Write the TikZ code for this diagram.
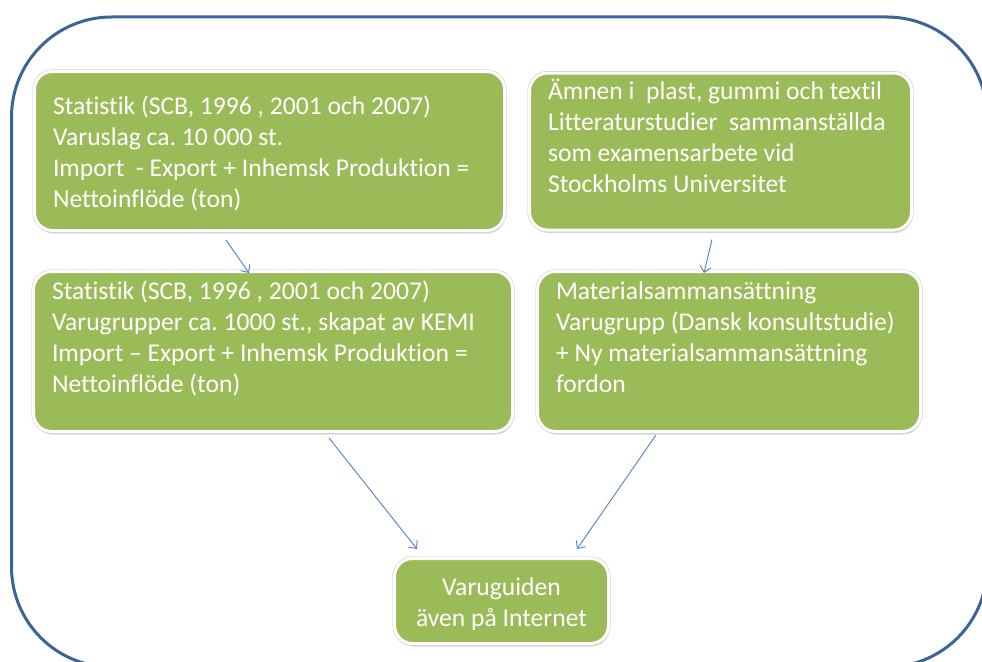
\documentclass[tikz,border=0pt]{standalone}
\usepackage{fontspec}
\setmainfont{Carlito}[Ligatures=CommonOff]
\usetikzlibrary{arrows.meta}
\usetikzlibrary{shadows}
\definecolor{boxgreen}{RGB}{155,187,89}
\definecolor{frameblue}{RGB}{60,100,150}
\definecolor{linkblue}{RGB}{79,129,189}
\newcommand{\boxlines}[2]{\noindent\spaceskip=0pt\xspaceskip=0pt%
  \raisebox{-4pt}[\height][\depth]{\begin{tabular}{@{}#1@{}}#2\end{tabular}}}

\tikzset{
  greenbox/.style={rounded corners=18pt, fill=boxgreen, draw=white, line width=3pt,
    drop shadow={shadow xshift=1pt, shadow yshift=-3pt, opacity=0.3},
    preaction={draw=black!22, line width=4pt},
    text=white, font=\fontsize{25.6}{31}\selectfont\frenchspacing,
    inner xsep=18.5pt, inner ysep=0pt},
  link/.style={draw=linkblue, line width=0.9pt, -{Straight Barb[length=6pt,width=11pt]}}
}

\begin{document}
\begin{tikzpicture}[x=1pt, y=-1pt]
      \useasboundingbox (0,0) rectangle (982,661);
      \draw[frameblue, line width=3pt, rounded corners=100pt] (11.5,17) rectangle (987,667);

      \node[greenbox, text width=433pt, minimum height=159pt] (statA) at (269.5,151)
        {\boxlines{l}{Statistik (SCB, 1996 , 2001 och 2007)\\Varuslag ca. 10 000 st.\\Import\ \ - Export + Inhemsk Produktion =\\Nettoinflöde (ton)}};
      \node[greenbox, text width=345pt, minimum height=157pt] (litt) at (720.5,151.5)
        {\boxlines{l}{Ämnen i\ \ plast, gummi och textil\\Litteraturstudier\ \ sammanställda\\som examensarbete vid\\Stockholms Universitet\\ \mbox{}}};
      \node[greenbox, text width=442pt, minimum height=160pt] (statB) at (273,351.5)
        {\boxlines{l}{Statistik (SCB, 1996 , 2001 och 2007)\\Varugrupper ca. 1000 st., skapat av KEMI\\Import – Export + Inhemsk Produktion =\\Nettoinflöde (ton)\\ \mbox{}}};
      \node[greenbox, text width=346pt, minimum height=160pt] (mat) at (729,351.5)
        {\boxlines{l}{Materialsammansättning\\Varugrupp (Dansk konsultstudie)\\+ Ny materialsammansättning\\fordon\\ \mbox{}}};
      \node[greenbox, minimum width=214pt, minimum height=85pt] (guide) at (501.5,601)
        {\boxlines{c}{Varuguiden\\även på Internet}};

      \draw[link] ([xshift=-43.5pt, yshift=-8pt]statA.south) -- ([xshift=-24pt, yshift=-3pt]statB.north);
      \draw[link] ([xshift=-8.5pt, yshift=-8pt]litt.south) -- ([xshift=-25pt, yshift=-3pt]mat.north);
      \draw[link] ([xshift=56pt, yshift=-5pt]statB.south) -- ([xshift=-84.5pt, yshift=8pt]guide.north);
      \draw[link] ([xshift=-73pt, yshift=-2pt]mat.south) -- ([xshift=75.5pt, yshift=8pt]guide.north);
\end{tikzpicture}
\end{document}
